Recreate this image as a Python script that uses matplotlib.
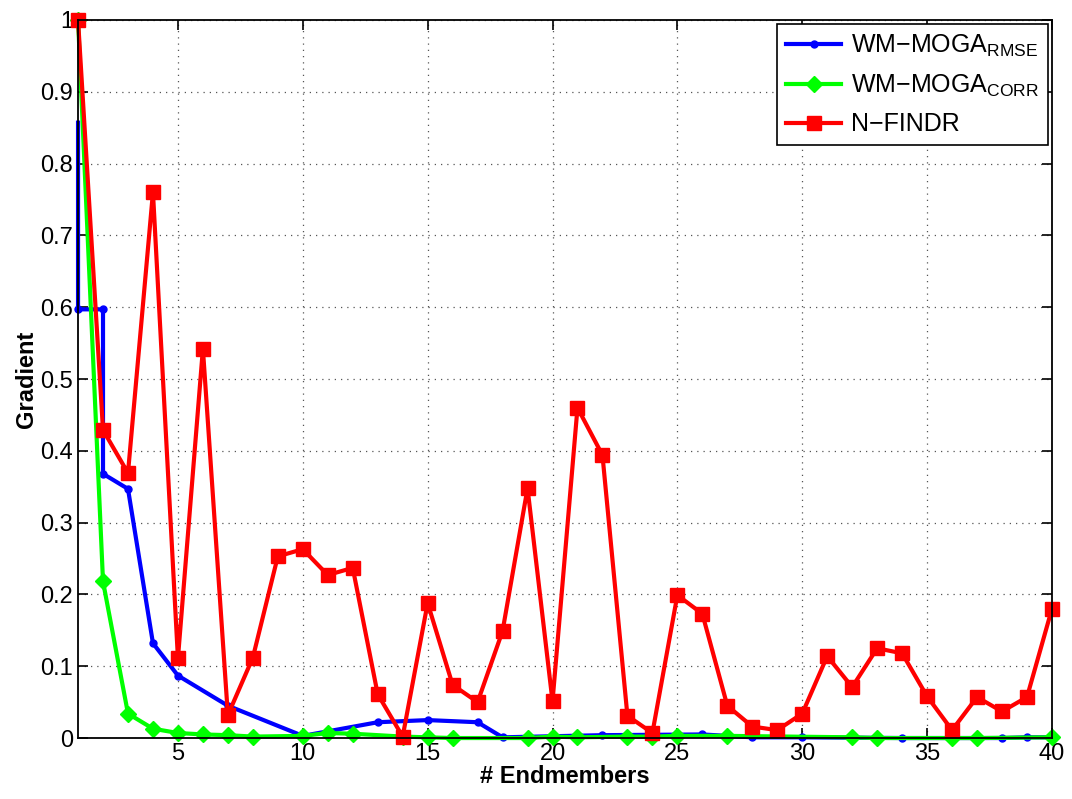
import matplotlib.pyplot as plt
import numpy as np

plt.rcParams['font.family'] = ['Liberation Sans', 'DejaVu Sans']
plt.rcParams['mathtext.fontset'] = 'custom'
plt.rcParams['mathtext.rm'] = 'Liberation Sans'

# N-FINDR, one value per endmember count 1..40
nfindr_x = list(range(1, 41))
nfindr_y = [1.0, 0.429, 0.369, 0.760, 0.111, 0.542, 0.032, 0.112, 0.253, 0.263,
            0.227, 0.237, 0.061, 0.002, 0.188, 0.074, 0.050, 0.149, 0.348, 0.051,
            0.460, 0.394, 0.031, 0.007, 0.199, 0.173, 0.045, 0.016, 0.011, 0.034,
            0.114, 0.071, 0.125, 0.118, 0.058, 0.011, 0.057, 0.037, 0.057, 0.180]

# WM-MOGA RMSE (steps at 1 and 2)
rmse_x = [1, 1, 2, 2, 3, 4, 5, 7, 10, 13, 15, 17, 18, 22, 26, 28, 30, 34, 38, 39, 40]
rmse_y = [0.857, 0.597, 0.597, 0.368, 0.347, 0.132, 0.087, 0.045, 0.003, 0.022,
          0.025, 0.022, 0.001, 0.004, 0.005, 0.001, 0.001, 0.0, 0.0, 0.001, 0.001]

# WM-MOGA CORR
corr_x = [1, 2, 3, 4, 5, 6, 7, 8, 10, 11, 12, 14, 15, 16, 19, 20, 21, 23, 24, 25,
          27, 32, 33, 36, 37, 40]
corr_y = [1.0, 0.218, 0.034, 0.013, 0.007, 0.005, 0.004, 0.002, 0.003, 0.007,
          0.006, 0.002, 0.001, 0.0, 0.0, 0.002, 0.001, 0.002, 0.002, 0.003,
          0.003, 0.001, 0.0, 0.0, 0.0, 0.001]

fig = plt.figure(figsize=(10.72, 7.99), dpi=100)
ax = fig.add_axes([0.0728, 0.0763, 0.9085, 0.8987])

ax.plot(rmse_x, rmse_y, color='#0000ff', lw=3, marker='o', ms=5,
        markevery=list(range(1, len(rmse_x))),
        label=r'WM−MOGA$_{\rm RMSE}$', clip_on=False)
ax.plot(corr_x, corr_y, color='#00ff00', lw=3, marker='D', ms=8.5,
        label=r'WM−MOGA$_{\rm CORR}$', clip_on=False)
ax.plot(nfindr_x, nfindr_y, color='#ff0000', lw=3, marker='s', ms=10,
        label='N−FINDR', clip_on=False)

ax.set_xlim(1, 40)
ax.set_ylim(0, 1)
ax.set_xticks(np.arange(5, 41, 5))
ax.set_yticks(np.arange(0, 1.01, 0.1))
ax.set_yticklabels(['0', '0.1', '0.2', '0.3', '0.4', '0.5', '0.6', '0.7', '0.8', '0.9', '1'])
ax.tick_params(direction='in', top=True, right=True, labelsize=17, length=7, width=1.2)
ax.grid(True, linestyle=(0, (1, 4)), color='#555555', linewidth=0.9)
for s in ax.spines.values():
    s.set_linewidth(1.3)

ax.set_xlabel('# Endmembers', fontsize=17, fontweight='bold', labelpad=0)
ax.set_ylabel('Gradient', fontsize=17, fontweight='bold', labelpad=2)

leg = ax.legend(loc='upper right', fontsize=18, fancybox=False, framealpha=1,
                edgecolor='black', handlelength=2.2, borderaxespad=0.15,
                labelspacing=0.55, handletextpad=0.4, borderpad=0.35)
leg.get_frame().set_linewidth(1.2)

fig.savefig('out.png', dpi=100)
